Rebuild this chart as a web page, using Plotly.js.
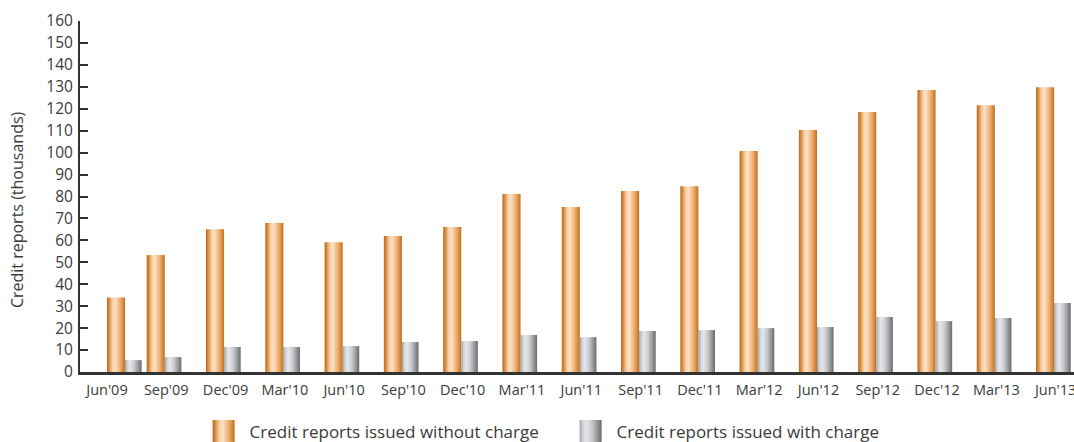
<!DOCTYPE html>
<html>
<head>
<meta charset="utf-8">
<script src="https://cdn.plot.ly/plotly-3.0.1.min.js"></script>
<style>
  html, body { margin: 0; padding: 0; background: #fff; }
  #chart { width: 1074px; height: 442px; }
</style>
</head>
<body>
<div id="chart"></div>
<script>
// Quarter-end labels
const quarters = ["Jun'09", "Sep'09", "Dec'09", "Mar'10", "Jun'10", "Sep'10", "Dec'10",
                  "Mar'11", "Jun'11", "Sep'11", "Dec'11", "Mar'12", "Jun'12", "Sep'12",
                  "Dec'12", "Mar'13", "Jun'13"];

// Credit reports issued, in thousands
const withoutCharge = [34, 53.3, 65.1, 67.9, 59.2, 62, 66.1, 81.1, 75.2, 82.5, 84.7,
                       100.7, 110.3, 118.5, 128.5, 121.6, 129.8];
const withCharge = [5.4, 6.8, 11.4, 11.4, 11.8, 13.7, 14.1, 16.9, 15.9, 18.7, 19.1,
                    20, 20.5, 25.1, 23.2, 24.6, 31.4];

const seriesNames = ['Credit reports issued without charge', 'Credit reports issued with charge'];
const yTitle = 'Credit reports (thousands)';

const textColor = '#3a3a3a';
const font = 'Open Sans, Noto Sans, sans-serif';

// The first quarter's pair sits a little right of its label
const firstShift = 0.33;
const orangeOffset = quarters.map((q, i) => -0.33 + (i === 0 ? firstShift : 0));
const grayOffset = quarters.map((q, i) => -0.025 + (i === 0 ? firstShift : 0));

const traces = [
  {
    type: 'bar', name: seriesNames[0], x: quarters, y: withoutCharge,
    offset: orangeOffset, width: 0.305,
    marker: { color: '#e0a060', line: { width: 0 } },
    hoverinfo: 'x+y'
  },
  {
    type: 'bar', name: seriesNames[1], x: quarters, y: withCharge,
    offset: grayOffset, width: 0.28,
    marker: { color: '#b8babd', line: { width: 0 } },
    hoverinfo: 'x+y'
  }
];

const layout = {
  width: 1074, height: 442,
  margin: { l: 80, r: 0, t: 21, b: 70 },
  paper_bgcolor: '#fff', plot_bgcolor: '#fff',
  font: { family: font, color: textColor, size: 15 },
  barmode: 'overlay',
  showlegend: true,
  legend: {
    orientation: 'h', xref: 'container', yref: 'container',
    x: 0.184, xanchor: 'left', y: 0.024, yanchor: 'middle',
    itemwidth: 42, entrywidth: 310, entrywidthmode: 'pixels',
    font: { size: 17, color: textColor, family: font },
    bgcolor: 'rgba(0,0,0,0)', itemclick: false, itemdoubleclick: false
  },
  annotations: [{
    text: yTitle, textangle: -90, showarrow: false,
    xref: 'paper', yref: 'paper', x: -0.0634, y: 0.464,
    xanchor: 'center', yanchor: 'middle',
    font: { size: 16, color: textColor, family: font }
  }],
  xaxis: {
    type: 'category', range: [-0.455, 16.31],
    showgrid: false, zeroline: false,
    showline: true, linecolor: '#333', linewidth: 3,
    ticks: '', tickfont: { size: 14.5, color: textColor, family: font },
    ticklabelstandoff: 3, fixedrange: true
  },
  yaxis: {
    range: [0, 160], dtick: 10, tick0: 0,
    showgrid: false, zeroline: false,
    showline: true, linecolor: '#333', linewidth: 2,
    ticks: 'inside', ticklen: 8, tickwidth: 2, tickcolor: '#333',
    tickfont: { size: 15.5, color: textColor, family: font },
    ticklabelstandoff: 2,
    fixedrange: true
  }
};

// Cylinder-style shading for the bars and legend swatches
const gradients = {
  gradOrange: [
    [0, '#bd6814'], [0.1, '#d2853a'], [0.3, '#f8cfa5'], [0.45, '#fde1c4'],
    [0.7, '#eeb57b'], [0.9, '#d6883c'], [1, '#c06a17']
  ],
  gradGray: [
    [0, '#9fa1a5'], [0.15, '#d2d4d7'], [0.3, '#e6e7e9'], [0.55, '#c9cbce'],
    [0.8, '#96989c'], [1, '#6a6b6f']
  ]
};

function addGradients(svg) {
  const ns = 'http://www.w3.org/2000/svg';
  let defs = svg.querySelector('defs');
  if (!defs) { defs = document.createElementNS(ns, 'defs'); svg.insertBefore(defs, svg.firstChild); }
  Object.keys(gradients).forEach(id => {
    const g = document.createElementNS(ns, 'linearGradient');
    g.setAttribute('id', id);
    g.setAttribute('x1', '0'); g.setAttribute('x2', '1');
    g.setAttribute('y1', '0'); g.setAttribute('y2', '0');
    gradients[id].forEach(([o, c]) => {
      const s = document.createElementNS(ns, 'stop');
      s.setAttribute('offset', o);
      s.setAttribute('stop-color', c);
      g.appendChild(s);
    });
    defs.appendChild(g);
  });
}

Plotly.newPlot('chart', traces, layout, { displayModeBar: false, staticPlot: true }).then(gd => {
  const svg = gd.querySelector('.main-svg');
  addGradients(svg);
  const ids = ['gradOrange', 'gradGray'];
  gd.querySelectorAll('.barlayer .trace').forEach((t, i) => {
    t.querySelectorAll('path').forEach(p => {
      p.style.fill = 'url(#' + ids[i] + ')';
      p.style.stroke = 'none';
    });
  });
  gd.querySelectorAll('.legend .traces').forEach((t, i) => {
    t.querySelectorAll('.legendpoints path').forEach(p => {
      p.setAttribute('d', 'M11,11H-11V-11H11Z');
      p.style.fill = 'url(#' + ids[i] + ')';
      p.style.stroke = 'none';
    });
  });
});
</script>
</body>
</html>
